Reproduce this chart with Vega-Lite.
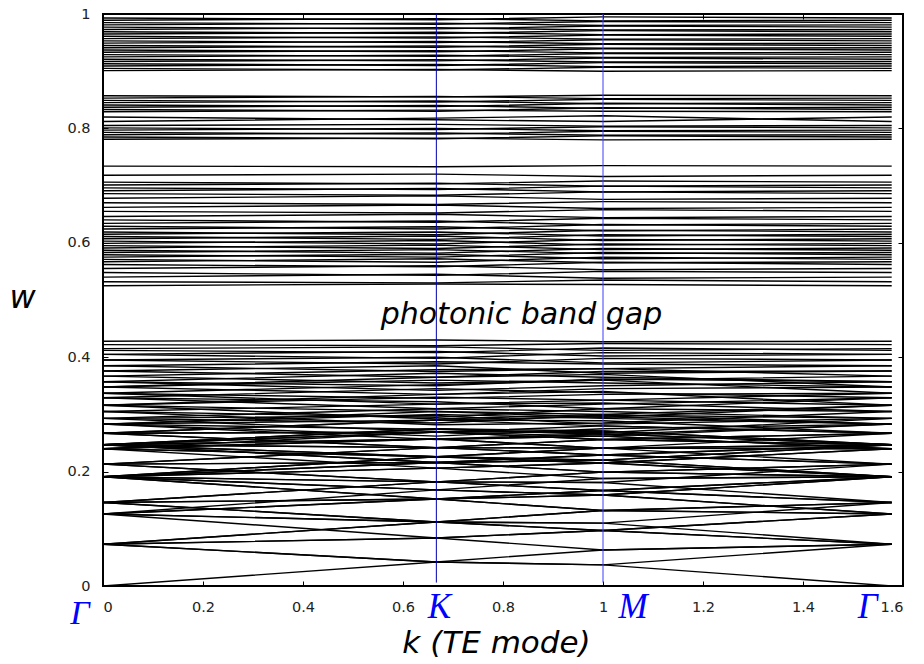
{
"$schema": "https://vega.github.io/schema/vega-lite/v6.json",
"width": 800, "height": 572,
"autosize": {"type": "none"},
"padding": {"left": 103, "top": 14, "right": 21, "bottom": 78},
"background": "white",
"config": {"view": {"stroke": "black", "strokeWidth": 2}},
"resolve": {"axis": {"x": "independent", "y": "independent"}},
"layer": [
{
"data": {"values": [
{"b":1,"k":0,"w":0},{"b":1,"k":0.6667,"w":0.042},{"b":1,"k":1,"w":0.037},{"b":1,"k":1.5774,"w":0},
{"b":2,"k":0,"w":0.073},{"b":2,"k":0.6667,"w":0.042},{"b":2,"k":1,"w":0.037},{"b":2,"k":1.5774,"w":0.073},
{"b":3,"k":0,"w":0.073},{"b":3,"k":0.6667,"w":0.042},{"b":3,"k":1,"w":0.063},{"b":3,"k":1.5774,"w":0.073},
{"b":4,"k":0,"w":0.073},{"b":4,"k":0.6667,"w":0.084},{"b":4,"k":1,"w":0.097},{"b":4,"k":1.5774,"w":0.073},
{"b":5,"k":0,"w":0.073},{"b":5,"k":0.6667,"w":0.112},{"b":5,"k":1,"w":0.110},{"b":5,"k":1.5774,"w":0.073},
{"b":6,"k":0,"w":0.073},{"b":6,"k":0.6667,"w":0.112},{"b":6,"k":1,"w":0.097},{"b":6,"k":1.5774,"w":0.073},
{"b":7,"k":0,"w":0.073},{"b":7,"k":0.6667,"w":0.084},{"b":7,"k":1,"w":0.063},{"b":7,"k":1.5774,"w":0.073},
{"b":8,"k":0,"w":0.126},{"b":8,"k":0.6667,"w":0.084},{"b":8,"k":1,"w":0.097},{"b":8,"k":1.5774,"w":0.126},
{"b":9,"k":0,"w":0.126},{"b":9,"k":0.6667,"w":0.112},{"b":9,"k":1,"w":0.132},{"b":9,"k":1.5774,"w":0.126},
{"b":10,"k":0,"w":0.126},{"b":10,"k":0.6667,"w":0.152},{"b":10,"k":1,"w":0.159},{"b":10,"k":1.5774,"w":0.126},
{"b":11,"k":0,"w":0.126},{"b":11,"k":0.6667,"w":0.168},{"b":11,"k":1,"w":0.159},{"b":11,"k":1.5774,"w":0.126},
{"b":12,"k":0,"w":0.126},{"b":12,"k":0.6667,"w":0.152},{"b":12,"k":1,"w":0.132},{"b":12,"k":1.5774,"w":0.126},
{"b":13,"k":0,"w":0.126},{"b":13,"k":0.6667,"w":0.112},{"b":13,"k":1,"w":0.097},{"b":13,"k":1.5774,"w":0.126},
{"b":14,"k":0,"w":0.146},{"b":14,"k":0.6667,"w":0.112},{"b":14,"k":1,"w":0.110},{"b":14,"k":1.5774,"w":0.146},
{"b":15,"k":0,"w":0.146},{"b":15,"k":0.6667,"w":0.112},{"b":15,"k":1,"w":0.132},{"b":15,"k":1.5774,"w":0.146},
{"b":16,"k":0,"w":0.146},{"b":16,"k":0.6667,"w":0.152},{"b":16,"k":1,"w":0.167},{"b":16,"k":1.5774,"w":0.146},
{"b":17,"k":0,"w":0.146},{"b":17,"k":0.6667,"w":0.182},{"b":17,"k":1,"w":0.181},{"b":17,"k":1.5774,"w":0.146},
{"b":18,"k":0,"w":0.146},{"b":18,"k":0.6667,"w":0.182},{"b":18,"k":1,"w":0.167},{"b":18,"k":1.5774,"w":0.146},
{"b":19,"k":0,"w":0.146},{"b":19,"k":0.6667,"w":0.152},{"b":19,"k":1,"w":0.132},{"b":19,"k":1.5774,"w":0.146},
{"b":20,"k":0,"w":0.191},{"b":20,"k":0.6667,"w":0.152},{"b":20,"k":1,"w":0.159},{"b":20,"k":1.5774,"w":0.191},
{"b":21,"k":0,"w":0.191},{"b":21,"k":0.6667,"w":0.152},{"b":21,"k":1,"w":0.167},{"b":21,"k":1.5774,"w":0.191},
{"b":22,"k":0,"w":0.191},{"b":22,"k":0.6667,"w":0.168},{"b":22,"k":1,"w":0.188},{"b":22,"k":1.5774,"w":0.191},
{"b":23,"k":0,"w":0.191},{"b":23,"k":0.6667,"w":0.182},{"b":23,"k":1,"w":0.199},{"b":23,"k":1.5774,"w":0.191},
{"b":24,"k":0,"w":0.191},{"b":24,"k":0.6667,"w":0.206},{"b":24,"k":1,"w":0.215},{"b":24,"k":1.5774,"w":0.191},
{"b":25,"k":0,"w":0.191},{"b":25,"k":0.6667,"w":0.216},{"b":25,"k":1,"w":0.220},{"b":25,"k":1.5774,"w":0.191},
{"b":26,"k":0,"w":0.191},{"b":26,"k":0.6667,"w":0.226},{"b":26,"k":1,"w":0.220},{"b":26,"k":1.5774,"w":0.191},
{"b":27,"k":0,"w":0.191},{"b":27,"k":0.6667,"w":0.226},{"b":27,"k":1,"w":0.215},{"b":27,"k":1.5774,"w":0.191},
{"b":28,"k":0,"w":0.191},{"b":28,"k":0.6667,"w":0.216},{"b":28,"k":1,"w":0.199},{"b":28,"k":1.5774,"w":0.191},
{"b":29,"k":0,"w":0.191},{"b":29,"k":0.6667,"w":0.206},{"b":29,"k":1,"w":0.188},{"b":29,"k":1.5774,"w":0.191},
{"b":30,"k":0,"w":0.191},{"b":30,"k":0.6667,"w":0.182},{"b":30,"k":1,"w":0.167},{"b":30,"k":1.5774,"w":0.191},
{"b":31,"k":0,"w":0.191},{"b":31,"k":0.6667,"w":0.168},{"b":31,"k":1,"w":0.159},{"b":31,"k":1.5774,"w":0.191},
{"b":32,"k":0,"w":0.213},{"b":32,"k":0.6667,"w":0.182},{"b":32,"k":1,"w":0.181},{"b":32,"k":1.5774,"w":0.213},
{"b":33,"k":0,"w":0.213},{"b":33,"k":0.6667,"w":0.182},{"b":33,"k":1,"w":0.199},{"b":33,"k":1.5774,"w":0.213},
{"b":34,"k":0,"w":0.213},{"b":34,"k":0.6667,"w":0.216},{"b":34,"k":1,"w":0.229},{"b":34,"k":1.5774,"w":0.213},
{"b":35,"k":0,"w":0.213},{"b":35,"k":0.6667,"w":0.242},{"b":35,"k":1,"w":0.241},{"b":35,"k":1.5774,"w":0.213},
{"b":36,"k":0,"w":0.213},{"b":36,"k":0.6667,"w":0.242},{"b":36,"k":1,"w":0.229},{"b":36,"k":1.5774,"w":0.213},
{"b":37,"k":0,"w":0.213},{"b":37,"k":0.6667,"w":0.216},{"b":37,"k":1,"w":0.199},{"b":37,"k":1.5774,"w":0.213},
{"b":38,"k":0,"w":0.240},{"b":38,"k":0.6667,"w":0.206},{"b":38,"k":1,"w":0.215},{"b":38,"k":1.5774,"w":0.240},
{"b":39,"k":0,"w":0.240},{"b":39,"k":0.6667,"w":0.226},{"b":39,"k":1,"w":0.241},{"b":39,"k":1.5774,"w":0.240},
{"b":40,"k":0,"w":0.240},{"b":40,"k":0.6667,"w":0.257},{"b":40,"k":1,"w":0.262},{"b":40,"k":1.5774,"w":0.240},
{"b":41,"k":0,"w":0.240},{"b":41,"k":0.6667,"w":0.269},{"b":41,"k":1,"w":0.262},{"b":41,"k":1.5774,"w":0.240},
{"b":42,"k":0,"w":0.240},{"b":42,"k":0.6667,"w":0.257},{"b":42,"k":1,"w":0.241},{"b":42,"k":1.5774,"w":0.240},
{"b":43,"k":0,"w":0.240},{"b":43,"k":0.6667,"w":0.226},{"b":43,"k":1,"w":0.215},{"b":43,"k":1.5774,"w":0.240},
{"b":44,"k":0,"w":0.247},{"b":44,"k":0.6667,"w":0.216},{"b":44,"k":1,"w":0.220},{"b":44,"k":1.5774,"w":0.247},
{"b":45,"k":0,"w":0.247},{"b":45,"k":0.6667,"w":0.216},{"b":45,"k":1,"w":0.229},{"b":45,"k":1.5774,"w":0.247},
{"b":46,"k":0,"w":0.247},{"b":46,"k":0.6667,"w":0.226},{"b":46,"k":1,"w":0.241},{"b":46,"k":1.5774,"w":0.247},
{"b":47,"k":0,"w":0.247},{"b":47,"k":0.6667,"w":0.242},{"b":47,"k":1,"w":0.256},{"b":47,"k":1.5774,"w":0.247},
{"b":48,"k":0,"w":0.247},{"b":48,"k":0.6667,"w":0.257},{"b":48,"k":1,"w":0.266},{"b":48,"k":1.5774,"w":0.247},
{"b":49,"k":0,"w":0.247},{"b":49,"k":0.6667,"w":0.269},{"b":49,"k":1,"w":0.271},{"b":49,"k":1.5774,"w":0.247},
{"b":50,"k":0,"w":0.247},{"b":50,"k":0.6667,"w":0.275},{"b":50,"k":1,"w":0.271},{"b":50,"k":1.5774,"w":0.247},
{"b":51,"k":0,"w":0.247},{"b":51,"k":0.6667,"w":0.275},{"b":51,"k":1,"w":0.266},{"b":51,"k":1.5774,"w":0.247},
{"b":52,"k":0,"w":0.247},{"b":52,"k":0.6667,"w":0.269},{"b":52,"k":1,"w":0.256},{"b":52,"k":1.5774,"w":0.247},
{"b":53,"k":0,"w":0.247},{"b":53,"k":0.6667,"w":0.257},{"b":53,"k":1,"w":0.241},{"b":53,"k":1.5774,"w":0.247},
{"b":54,"k":0,"w":0.247},{"b":54,"k":0.6667,"w":0.242},{"b":54,"k":1,"w":0.229},{"b":54,"k":1.5774,"w":0.247},
{"b":55,"k":0,"w":0.247},{"b":55,"k":0.6667,"w":0.226},{"b":55,"k":1,"w":0.220},{"b":55,"k":1.5774,"w":0.247},
{"b":56,"k":0,"w":0.267},{"b":56,"k":0.6667,"w":0.242},{"b":56,"k":1,"w":0.241},{"b":56,"k":1.5774,"w":0.267},
{"b":57,"k":0,"w":0.267},{"b":57,"k":0.6667,"w":0.242},{"b":57,"k":1,"w":0.256},{"b":57,"k":1.5774,"w":0.267},
{"b":58,"k":0,"w":0.267},{"b":58,"k":0.6667,"w":0.269},{"b":58,"k":1,"w":0.280},{"b":58,"k":1.5774,"w":0.267},
{"b":59,"k":0,"w":0.267},{"b":59,"k":0.6667,"w":0.290},{"b":59,"k":1,"w":0.289},{"b":59,"k":1.5774,"w":0.267},
{"b":60,"k":0,"w":0.267},{"b":60,"k":0.6667,"w":0.290},{"b":60,"k":1,"w":0.280},{"b":60,"k":1.5774,"w":0.267},
{"b":61,"k":0,"w":0.267},{"b":61,"k":0.6667,"w":0.269},{"b":61,"k":1,"w":0.256},{"b":61,"k":1.5774,"w":0.267},
{"b":62,"k":0,"w":0.283},{"b":62,"k":0.6667,"w":0.256},{"b":62,"k":1,"w":0.262},{"b":62,"k":1.5774,"w":0.283},
{"b":63,"k":0,"w":0.283},{"b":63,"k":0.6667,"w":0.262},{"b":63,"k":1,"w":0.275},{"b":63,"k":1.5774,"w":0.283},
{"b":64,"k":0,"w":0.283},{"b":64,"k":0.6667,"w":0.290},{"b":64,"k":1,"w":0.296},{"b":64,"k":1.5774,"w":0.283},
{"b":65,"k":0,"w":0.283},{"b":65,"k":0.6667,"w":0.300},{"b":65,"k":1,"w":0.293},{"b":65,"k":1.5774,"w":0.283},
{"b":66,"k":0,"w":0.283},{"b":66,"k":0.6667,"w":0.274},{"b":66,"k":1,"w":0.265},{"b":66,"k":1.5774,"w":0.283},
{"b":67,"k":0,"w":0.283},{"b":67,"k":0.6667,"w":0.305},{"b":67,"k":1,"w":0.300},{"b":67,"k":1.5774,"w":0.283},
{"b":68,"k":0,"w":0.293},{"b":68,"k":0.6667,"w":0.270},{"b":68,"k":1,"w":0.268},{"b":68,"k":1.5774,"w":0.293},
{"b":69,"k":0,"w":0.293},{"b":69,"k":0.6667,"w":0.285},{"b":69,"k":1,"w":0.299},{"b":69,"k":1.5774,"w":0.293},
{"b":70,"k":0,"w":0.293},{"b":70,"k":0.6667,"w":0.310},{"b":70,"k":1,"w":0.305},{"b":70,"k":1.5774,"w":0.293},
{"b":71,"k":0,"w":0.293},{"b":71,"k":0.6667,"w":0.298},{"b":71,"k":1,"w":0.283},{"b":71,"k":1.5774,"w":0.293},
{"b":72,"k":0,"w":0.305},{"b":72,"k":0.6667,"w":0.282},{"b":72,"k":1,"w":0.285},{"b":72,"k":1.5774,"w":0.305},
{"b":73,"k":0,"w":0.305},{"b":73,"k":0.6667,"w":0.318},{"b":73,"k":1,"w":0.320},{"b":73,"k":1.5774,"w":0.305},
{"b":74,"k":0,"w":0.305},{"b":74,"k":0.6667,"w":0.295},{"b":74,"k":1,"w":0.310},{"b":74,"k":1.5774,"w":0.305},
{"b":75,"k":0,"w":0.316},{"b":75,"k":0.6667,"w":0.292},{"b":75,"k":1,"w":0.300},{"b":75,"k":1.5774,"w":0.316},
{"b":76,"k":0,"w":0.316},{"b":76,"k":0.6667,"w":0.330},{"b":76,"k":1,"w":0.325},{"b":76,"k":1.5774,"w":0.316},
{"b":77,"k":0,"w":0.316},{"b":77,"k":0.6667,"w":0.305},{"b":77,"k":1,"w":0.295},{"b":77,"k":1.5774,"w":0.316},
{"b":78,"k":0,"w":0.316},{"b":78,"k":0.6667,"w":0.335},{"b":78,"k":1,"w":0.340},{"b":78,"k":1.5774,"w":0.316},
{"b":79,"k":0,"w":0.329},{"b":79,"k":0.6667,"w":0.310},{"b":79,"k":1,"w":0.318},{"b":79,"k":1.5774,"w":0.329},
{"b":80,"k":0,"w":0.329},{"b":80,"k":0.6667,"w":0.345},{"b":80,"k":1,"w":0.338},{"b":80,"k":1.5774,"w":0.329},
{"b":81,"k":0,"w":0.329},{"b":81,"k":0.6667,"w":0.322},{"b":81,"k":1,"w":0.310},{"b":81,"k":1.5774,"w":0.329},
{"b":82,"k":0,"w":0.337},{"b":82,"k":0.6667,"w":0.352},{"b":82,"k":1,"w":0.360},{"b":82,"k":1.5774,"w":0.337},
{"b":83,"k":0,"w":0.337},{"b":83,"k":0.6667,"w":0.328},{"b":83,"k":1,"w":0.335},{"b":83,"k":1.5774,"w":0.337},
{"b":84,"k":0,"w":0.337},{"b":84,"k":0.6667,"w":0.318},{"b":84,"k":1,"w":0.325},{"b":84,"k":1.5774,"w":0.337},
{"b":85,"k":0,"w":0.348},{"b":85,"k":0.6667,"w":0.360},{"b":85,"k":1,"w":0.355},{"b":85,"k":1.5774,"w":0.348},
{"b":86,"k":0,"w":0.348},{"b":86,"k":0.6667,"w":0.335},{"b":86,"k":1,"w":0.345},{"b":86,"k":1.5774,"w":0.348},
{"b":87,"k":0,"w":0.348},{"b":87,"k":0.6667,"w":0.365},{"b":87,"k":1,"w":0.370},{"b":87,"k":1.5774,"w":0.348},
{"b":88,"k":0,"w":0.357},{"b":88,"k":0.6667,"w":0.342},{"b":88,"k":1,"w":0.350},{"b":88,"k":1.5774,"w":0.357},
{"b":89,"k":0,"w":0.357},{"b":89,"k":0.6667,"w":0.372},{"b":89,"k":1,"w":0.365},{"b":89,"k":1.5774,"w":0.357},
{"b":90,"k":0,"w":0.357},{"b":90,"k":0.6667,"w":0.350},{"b":90,"k":1,"w":0.362},{"b":90,"k":1.5774,"w":0.357},
{"b":91,"k":0,"w":0.367},{"b":91,"k":0.6667,"w":0.378},{"b":91,"k":1,"w":0.380},{"b":91,"k":1.5774,"w":0.367},
{"b":92,"k":0,"w":0.367},{"b":92,"k":0.6667,"w":0.355},{"b":92,"k":1,"w":0.360},{"b":92,"k":1.5774,"w":0.367},
{"b":93,"k":0,"w":0.376},{"b":93,"k":0.6667,"w":0.385},{"b":93,"k":1,"w":0.372},{"b":93,"k":1.5774,"w":0.376},
{"b":94,"k":0,"w":0.376},{"b":94,"k":0.6667,"w":0.365},{"b":94,"k":1,"w":0.375},{"b":94,"k":1.5774,"w":0.376},
{"b":95,"k":0,"w":0.385},{"b":95,"k":0.6667,"w":0.392},{"b":95,"k":1,"w":0.388},{"b":95,"k":1.5774,"w":0.385},
{"b":96,"k":0,"w":0.385},{"b":96,"k":0.6667,"w":0.375},{"b":96,"k":1,"w":0.380},{"b":96,"k":1.5774,"w":0.385},
{"b":97,"k":0,"w":0.395},{"b":97,"k":0.6667,"w":0.400},{"b":97,"k":1,"w":0.390},{"b":97,"k":1.5774,"w":0.395},
{"b":98,"k":0,"w":0.395},{"b":98,"k":0.6667,"w":0.388},{"b":98,"k":1,"w":0.398},{"b":98,"k":1.5774,"w":0.395},
{"b":99,"k":0,"w":0.405},{"b":99,"k":0.6667,"w":0.410},{"b":99,"k":1,"w":0.402},{"b":99,"k":1.5774,"w":0.405},
{"b":100,"k":0,"w":0.405},{"b":100,"k":0.6667,"w":0.398},{"b":100,"k":1,"w":0.408},{"b":100,"k":1.5774,"w":0.405},
{"b":101,"k":0,"w":0.415},{"b":101,"k":0.6667,"w":0.418},{"b":101,"k":1,"w":0.412},{"b":101,"k":1.5774,"w":0.415},
{"b":102,"k":0,"w":0.412},{"b":102,"k":0.6667,"w":0.408},{"b":102,"k":1,"w":0.416},{"b":102,"k":1.5774,"w":0.412},
{"b":103,"k":0,"w":0.422},{"b":103,"k":0.6667,"w":0.420},{"b":103,"k":1,"w":0.424},{"b":103,"k":1.5774,"w":0.422},
{"b":104,"k":0,"w":0.428},{"b":104,"k":0.6667,"w":0.430},{"b":104,"k":1,"w":0.427},{"b":104,"k":1.5774,"w":0.428},
{"b":105,"k":0,"w":0.525},{"b":105,"k":0.6667,"w":0.528},{"b":105,"k":1,"w":0.527},{"b":105,"k":1.5774,"w":0.525},
{"b":106,"k":0,"w":0.532},{"b":106,"k":0.6667,"w":0.530},{"b":106,"k":1,"w":0.535},{"b":106,"k":1.5774,"w":0.532},
{"b":107,"k":0,"w":0.540},{"b":107,"k":0.6667,"w":0.545},{"b":107,"k":1,"w":0.538},{"b":107,"k":1.5774,"w":0.540},
{"b":108,"k":0,"w":0.548},{"b":108,"k":0.6667,"w":0.543},{"b":108,"k":1,"w":0.550},{"b":108,"k":1.5774,"w":0.548},
{"b":109,"k":0,"w":0.555},{"b":109,"k":0.6667,"w":0.560},{"b":109,"k":1,"w":0.553},{"b":109,"k":1.5774,"w":0.555},
{"b":110,"k":0,"w":0.562},{"b":110,"k":0.6667,"w":0.558},{"b":110,"k":1,"w":0.566},{"b":110,"k":1.5774,"w":0.562},
{"b":111,"k":0,"w":0.567},{"b":111,"k":0.6667,"w":0.572},{"b":111,"k":1,"w":0.565},{"b":111,"k":1.5774,"w":0.567},
{"b":112,"k":0,"w":0.571},{"b":112,"k":0.6667,"w":0.566},{"b":112,"k":1,"w":0.575},{"b":112,"k":1.5774,"w":0.571},
{"b":113,"k":0,"w":0.575},{"b":113,"k":0.6667,"w":0.580},{"b":113,"k":1,"w":0.572},{"b":113,"k":1.5774,"w":0.575},
{"b":114,"k":0,"w":0.579},{"b":114,"k":0.6667,"w":0.575},{"b":114,"k":1,"w":0.583},{"b":114,"k":1.5774,"w":0.579},
{"b":115,"k":0,"w":0.583},{"b":115,"k":0.6667,"w":0.588},{"b":115,"k":1,"w":0.581},{"b":115,"k":1.5774,"w":0.583},
{"b":116,"k":0,"w":0.587},{"b":116,"k":0.6667,"w":0.582},{"b":116,"k":1,"w":0.590},{"b":116,"k":1.5774,"w":0.587},
{"b":117,"k":0,"w":0.591},{"b":117,"k":0.6667,"w":0.596},{"b":117,"k":1,"w":0.588},{"b":117,"k":1.5774,"w":0.591},
{"b":118,"k":0,"w":0.595},{"b":118,"k":0.6667,"w":0.590},{"b":118,"k":1,"w":0.598},{"b":118,"k":1.5774,"w":0.595},
{"b":119,"k":0,"w":0.599},{"b":119,"k":0.6667,"w":0.604},{"b":119,"k":1,"w":0.596},{"b":119,"k":1.5774,"w":0.599},
{"b":120,"k":0,"w":0.603},{"b":120,"k":0.6667,"w":0.598},{"b":120,"k":1,"w":0.606},{"b":120,"k":1.5774,"w":0.603},
{"b":121,"k":0,"w":0.607},{"b":121,"k":0.6667,"w":0.612},{"b":121,"k":1,"w":0.604},{"b":121,"k":1.5774,"w":0.607},
{"b":122,"k":0,"w":0.611},{"b":122,"k":0.6667,"w":0.606},{"b":122,"k":1,"w":0.614},{"b":122,"k":1.5774,"w":0.611},
{"b":123,"k":0,"w":0.615},{"b":123,"k":0.6667,"w":0.619},{"b":123,"k":1,"w":0.612},{"b":123,"k":1.5774,"w":0.615},
{"b":124,"k":0,"w":0.619},{"b":124,"k":0.6667,"w":0.614},{"b":124,"k":1,"w":0.622},{"b":124,"k":1.5774,"w":0.619},
{"b":125,"k":0,"w":0.624},{"b":125,"k":0.6667,"w":0.628},{"b":125,"k":1,"w":0.621},{"b":125,"k":1.5774,"w":0.624},
{"b":126,"k":0,"w":0.629},{"b":126,"k":0.6667,"w":0.624},{"b":126,"k":1,"w":0.632},{"b":126,"k":1.5774,"w":0.629},
{"b":127,"k":0,"w":0.634},{"b":127,"k":0.6667,"w":0.638},{"b":127,"k":1,"w":0.631},{"b":127,"k":1.5774,"w":0.634},
{"b":128,"k":0,"w":0.640},{"b":128,"k":0.6667,"w":0.636},{"b":128,"k":1,"w":0.643},{"b":128,"k":1.5774,"w":0.640},
{"b":129,"k":0,"w":0.646},{"b":129,"k":0.6667,"w":0.650},{"b":129,"k":1,"w":0.644},{"b":129,"k":1.5774,"w":0.646},
{"b":130,"k":0,"w":0.655},{"b":130,"k":0.6667,"w":0.652},{"b":130,"k":1,"w":0.658},{"b":130,"k":1.5774,"w":0.655},
{"b":131,"k":0,"w":0.662},{"b":131,"k":0.6667,"w":0.666},{"b":131,"k":1,"w":0.660},{"b":131,"k":1.5774,"w":0.662},
{"b":132,"k":0,"w":0.670},{"b":132,"k":0.6667,"w":0.667},{"b":132,"k":1,"w":0.672},{"b":132,"k":1.5774,"w":0.670},
{"b":133,"k":0,"w":0.678},{"b":133,"k":0.6667,"w":0.682},{"b":133,"k":1,"w":0.676},{"b":133,"k":1.5774,"w":0.678},
{"b":134,"k":0,"w":0.686},{"b":134,"k":0.6667,"w":0.683},{"b":134,"k":1,"w":0.689},{"b":134,"k":1.5774,"w":0.686},
{"b":135,"k":0,"w":0.691},{"b":135,"k":0.6667,"w":0.695},{"b":135,"k":1,"w":0.689},{"b":135,"k":1.5774,"w":0.691},
{"b":136,"k":0,"w":0.696},{"b":136,"k":0.6667,"w":0.693},{"b":136,"k":1,"w":0.699},{"b":136,"k":1.5774,"w":0.696},
{"b":137,"k":0,"w":0.701},{"b":137,"k":0.6667,"w":0.704},{"b":137,"k":1,"w":0.699},{"b":137,"k":1.5774,"w":0.701},
{"b":138,"k":0,"w":0.706},{"b":138,"k":0.6667,"w":0.703},{"b":138,"k":1,"w":0.708},{"b":138,"k":1.5774,"w":0.706},
{"b":139,"k":0,"w":0.718},{"b":139,"k":0.6667,"w":0.720},{"b":139,"k":1,"w":0.716},{"b":139,"k":1.5774,"w":0.718},
{"b":140,"k":0,"w":0.734},{"b":140,"k":0.6667,"w":0.733},{"b":140,"k":1,"w":0.735},{"b":140,"k":1.5774,"w":0.734},
{"b":141,"k":0,"w":0.781},{"b":141,"k":0.6667,"w":0.783},{"b":141,"k":1,"w":0.780},{"b":141,"k":1.5774,"w":0.781},
{"b":142,"k":0,"w":0.785},{"b":142,"k":0.6667,"w":0.782},{"b":142,"k":1,"w":0.787},{"b":142,"k":1.5774,"w":0.785},
{"b":143,"k":0,"w":0.789},{"b":143,"k":0.6667,"w":0.792},{"b":143,"k":1,"w":0.788},{"b":143,"k":1.5774,"w":0.789},
{"b":144,"k":0,"w":0.793},{"b":144,"k":0.6667,"w":0.790},{"b":144,"k":1,"w":0.795},{"b":144,"k":1.5774,"w":0.793},
{"b":145,"k":0,"w":0.797},{"b":145,"k":0.6667,"w":0.800},{"b":145,"k":1,"w":0.796},{"b":145,"k":1.5774,"w":0.797},
{"b":146,"k":0,"w":0.801},{"b":146,"k":0.6667,"w":0.798},{"b":146,"k":1,"w":0.803},{"b":146,"k":1.5774,"w":0.801},
{"b":147,"k":0,"w":0.805},{"b":147,"k":0.6667,"w":0.807},{"b":147,"k":1,"w":0.804},{"b":147,"k":1.5774,"w":0.805},
{"b":148,"k":0,"w":0.812},{"b":148,"k":0.6667,"w":0.818},{"b":148,"k":1,"w":0.822},{"b":148,"k":1.5774,"w":0.812},
{"b":149,"k":0,"w":0.820},{"b":149,"k":0.6667,"w":0.815},{"b":149,"k":1,"w":0.812},{"b":149,"k":1.5774,"w":0.820},
{"b":150,"k":0,"w":0.829},{"b":150,"k":0.6667,"w":0.832},{"b":150,"k":1,"w":0.830},{"b":150,"k":1.5774,"w":0.829},
{"b":151,"k":0,"w":0.833},{"b":151,"k":0.6667,"w":0.830},{"b":151,"k":1,"w":0.836},{"b":151,"k":1.5774,"w":0.833},
{"b":152,"k":0,"w":0.837},{"b":152,"k":0.6667,"w":0.840},{"b":152,"k":1,"w":0.835},{"b":152,"k":1.5774,"w":0.837},
{"b":153,"k":0,"w":0.841},{"b":153,"k":0.6667,"w":0.838},{"b":153,"k":1,"w":0.844},{"b":153,"k":1.5774,"w":0.841},
{"b":154,"k":0,"w":0.845},{"b":154,"k":0.6667,"w":0.848},{"b":154,"k":1,"w":0.843},{"b":154,"k":1.5774,"w":0.845},
{"b":155,"k":0,"w":0.849},{"b":155,"k":0.6667,"w":0.846},{"b":155,"k":1,"w":0.851},{"b":155,"k":1.5774,"w":0.849},
{"b":156,"k":0,"w":0.853},{"b":156,"k":0.6667,"w":0.856},{"b":156,"k":1,"w":0.852},{"b":156,"k":1.5774,"w":0.853},
{"b":157,"k":0,"w":0.857},{"b":157,"k":0.6667,"w":0.855},{"b":157,"k":1,"w":0.858},{"b":157,"k":1.5774,"w":0.857},
{"b":158,"k":0,"w":0.901},{"b":158,"k":0.6667,"w":0.903},{"b":158,"k":1,"w":0.900},{"b":158,"k":1.5774,"w":0.901},
{"b":159,"k":0,"w":0.905},{"b":159,"k":0.6667,"w":0.902},{"b":159,"k":1,"w":0.907},{"b":159,"k":1.5774,"w":0.905},
{"b":160,"k":0,"w":0.909},{"b":160,"k":0.6667,"w":0.912},{"b":160,"k":1,"w":0.908},{"b":160,"k":1.5774,"w":0.909},
{"b":161,"k":0,"w":0.913},{"b":161,"k":0.6667,"w":0.910},{"b":161,"k":1,"w":0.915},{"b":161,"k":1.5774,"w":0.913},
{"b":162,"k":0,"w":0.917},{"b":162,"k":0.6667,"w":0.920},{"b":162,"k":1,"w":0.916},{"b":162,"k":1.5774,"w":0.917},
{"b":163,"k":0,"w":0.921},{"b":163,"k":0.6667,"w":0.918},{"b":163,"k":1,"w":0.923},{"b":163,"k":1.5774,"w":0.921},
{"b":164,"k":0,"w":0.925},{"b":164,"k":0.6667,"w":0.928},{"b":164,"k":1,"w":0.924},{"b":164,"k":1.5774,"w":0.925},
{"b":165,"k":0,"w":0.929},{"b":165,"k":0.6667,"w":0.926},{"b":165,"k":1,"w":0.931},{"b":165,"k":1.5774,"w":0.929},
{"b":166,"k":0,"w":0.933},{"b":166,"k":0.6667,"w":0.936},{"b":166,"k":1,"w":0.932},{"b":166,"k":1.5774,"w":0.933},
{"b":167,"k":0,"w":0.937},{"b":167,"k":0.6667,"w":0.934},{"b":167,"k":1,"w":0.939},{"b":167,"k":1.5774,"w":0.937},
{"b":168,"k":0,"w":0.941},{"b":168,"k":0.6667,"w":0.944},{"b":168,"k":1,"w":0.940},{"b":168,"k":1.5774,"w":0.941},
{"b":169,"k":0,"w":0.945},{"b":169,"k":0.6667,"w":0.942},{"b":169,"k":1,"w":0.947},{"b":169,"k":1.5774,"w":0.945},
{"b":170,"k":0,"w":0.949},{"b":170,"k":0.6667,"w":0.952},{"b":170,"k":1,"w":0.948},{"b":170,"k":1.5774,"w":0.949},
{"b":171,"k":0,"w":0.953},{"b":171,"k":0.6667,"w":0.950},{"b":171,"k":1,"w":0.955},{"b":171,"k":1.5774,"w":0.953},
{"b":172,"k":0,"w":0.957},{"b":172,"k":0.6667,"w":0.960},{"b":172,"k":1,"w":0.956},{"b":172,"k":1.5774,"w":0.957},
{"b":173,"k":0,"w":0.961},{"b":173,"k":0.6667,"w":0.958},{"b":173,"k":1,"w":0.963},{"b":173,"k":1.5774,"w":0.961},
{"b":174,"k":0,"w":0.965},{"b":174,"k":0.6667,"w":0.968},{"b":174,"k":1,"w":0.964},{"b":174,"k":1.5774,"w":0.965},
{"b":175,"k":0,"w":0.969},{"b":175,"k":0.6667,"w":0.966},{"b":175,"k":1,"w":0.971},{"b":175,"k":1.5774,"w":0.969},
{"b":176,"k":0,"w":0.973},{"b":176,"k":0.6667,"w":0.976},{"b":176,"k":1,"w":0.972},{"b":176,"k":1.5774,"w":0.973},
{"b":177,"k":0,"w":0.977},{"b":177,"k":0.6667,"w":0.974},{"b":177,"k":1,"w":0.979},{"b":177,"k":1.5774,"w":0.977},
{"b":178,"k":0,"w":0.981},{"b":178,"k":0.6667,"w":0.984},{"b":178,"k":1,"w":0.980},{"b":178,"k":1.5774,"w":0.981},
{"b":179,"k":0,"w":0.985},{"b":179,"k":0.6667,"w":0.982},{"b":179,"k":1,"w":0.987},{"b":179,"k":1.5774,"w":0.985},
{"b":180,"k":0,"w":0.989},{"b":180,"k":0.6667,"w":0.992},{"b":180,"k":1,"w":0.988},{"b":180,"k":1.5774,"w":0.989},
{"b":181,"k":0,"w":0.993},{"b":181,"k":0.6667,"w":0.990},{"b":181,"k":1,"w":0.995},{"b":181,"k":1.5774,"w":0.993}
]},
"mark": {"type": "line", "color": "black", "strokeWidth": 1.4, "clip": true},
"encoding": {
"x": {"field": "k", "type": "quantitative", "scale": {"domain": [0, 1.6], "nice": false, "zero": false},
"axis": {"orient": "bottom", "values": [0,0.2,0.4,0.6,0.8,1,1.2,1.4,1.6], "format": "~g", "domain": false, "grid": false, "tickSize": -5, "tickColor": "black", "tickWidth": 1, "labelPadding": 19, "labelFont": "DejaVu Sans", "labelFontSize": 14.5, "labelColor": "#222", "title": "k (TE mode)", "titleFont": "DejaVu Sans", "titleFontSize": 31, "titleFontStyle": "italic", "titleFontWeight": "normal", "titleColor": "black", "titleAlign": "center", "titleBaseline": "alphabetic", "titleX": 393, "titleY": 66}},
"y": {"field": "w", "type": "quantitative", "scale": {"domain": [0, 1], "nice": false},
"axis": {"orient": "left", "values": [0,0.2,0.4,0.6,0.8,1], "format": "~g", "domain": false, "grid": false, "tickSize": -5, "tickColor": "black", "tickWidth": 1, "labelPadding": 18, "labelFont": "DejaVu Sans", "labelFontSize": 14.5, "labelColor": "#222", "title": "w", "titleFont": "DejaVu Sans", "titleFontSize": 32, "titleFontStyle": "italic", "titleFontWeight": "normal", "titleColor": "black", "titleAngle": 0, "titleAlign": "center", "titleBaseline": "alphabetic", "titleX": -81, "titleY": 293}},
"detail": {"field": "b", "type": "nominal"}
}
},
{
"data": {"values": [{"p": "K", "k": 0.6667}, {"p": "M", "k": 1}]},
"mark": {"type": "rule", "strokeWidth": 1},
"encoding": {
"x": {"field": "k", "type": "quantitative", "axis": {"orient": "top", "values": [0,0.2,0.4,0.6,0.8,1,1.2,1.4,1.6], "labels": false, "domain": false, "grid": false, "tickSize": -5, "tickColor": "black", "tickWidth": 1, "title": null}},
"y": {"datum": 0.006, "type": "quantitative", "axis": {"orient": "right", "values": [0,0.2,0.4,0.6,0.8,1], "labels": false, "domain": false, "grid": false, "tickSize": -5, "tickColor": "black", "tickWidth": 1, "title": null}},
"y2": {"datum": 1},
"color": {"field": "p", "type": "nominal", "scale": {"domain": ["K", "M"], "range": ["#0000a8", "#3c3cff"]}, "legend": null}
}
},
{
"data": {"values": [{"lab": "Γ", "k": 0}]},
"mark": {"type": "text", "font": "Liberation Serif", "fontStyle": "italic", "fontSize": 34, "color": "#0000ff", "align": "center", "baseline": "alphabetic", "dx": -23, "dy": 38, "clip": false},
"encoding": {"x": {"field": "k", "type": "quantitative", "axis": null}, "y": {"datum": 0, "type": "quantitative", "axis": null}, "text": {"field": "lab"}}
},
{
"data": {"values": [{"lab": "K", "k": 0.6667}]},
"mark": {"type": "text", "font": "Liberation Serif", "fontStyle": "italic", "fontSize": 35, "color": "#0000ff", "align": "center", "baseline": "alphabetic", "dx": 3, "dy": 32, "clip": false},
"encoding": {"x": {"field": "k", "type": "quantitative", "axis": null}, "y": {"datum": 0, "type": "quantitative", "axis": null}, "text": {"field": "lab"}}
},
{
"data": {"values": [{"lab": "M", "k": 1}]},
"mark": {"type": "text", "font": "Liberation Serif", "fontStyle": "italic", "fontSize": 35, "color": "#0000ff", "align": "center", "baseline": "alphabetic", "dx": 30, "dy": 32, "clip": false},
"encoding": {"x": {"field": "k", "type": "quantitative", "axis": null}, "y": {"datum": 0, "type": "quantitative", "axis": null}, "text": {"field": "lab"}}
},
{
"data": {"values": [{"lab": "Γ", "k": 1.5774}]},
"mark": {"type": "text", "font": "Liberation Serif", "fontStyle": "italic", "fontSize": 35, "color": "#0000ff", "align": "center", "baseline": "alphabetic", "dx": -24, "dy": 32, "clip": false},
"encoding": {"x": {"field": "k", "type": "quantitative", "axis": null}, "y": {"datum": 0, "type": "quantitative", "axis": null}, "text": {"field": "lab"}}
},
{
"data": {"values": [{"t": "photonic band gap", "k": 0.837, "w": 0.458}]},
"mark": {"type": "text", "font": "DejaVu Sans", "fontStyle": "italic", "fontSize": 30, "color": "black", "align": "center", "baseline": "alphabetic"},
"encoding": {"x": {"field": "k", "type": "quantitative", "axis": null}, "y": {"field": "w", "type": "quantitative", "axis": null}, "text": {"field": "t"}}
}
]
}
